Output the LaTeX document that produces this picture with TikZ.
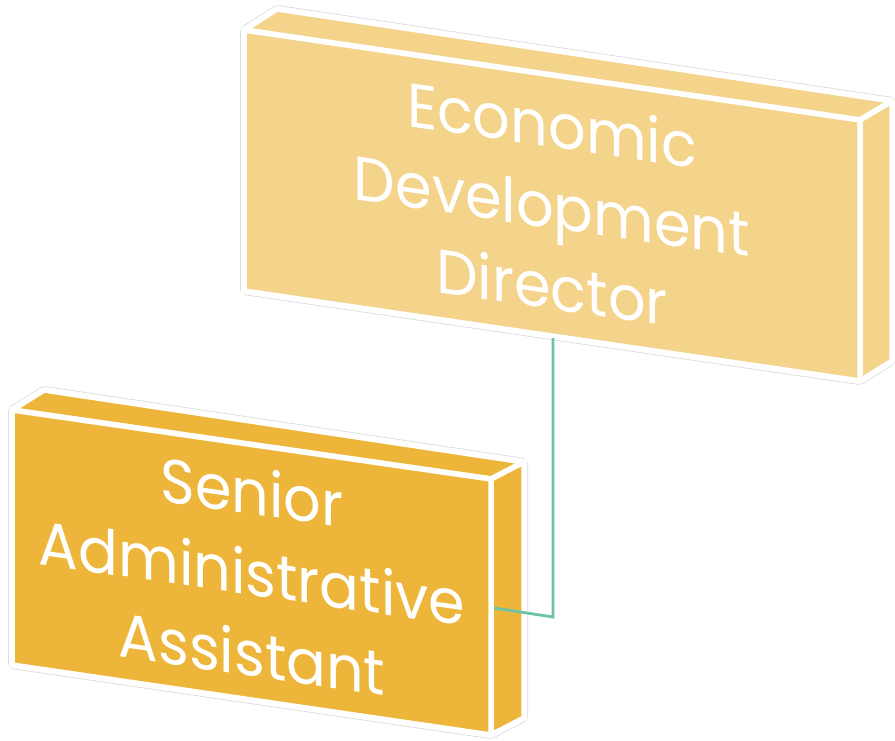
\documentclass[tikz,border=0pt]{standalone}
\usepackage{fontspec}
\setmainfont{Poppins}[FakeStretch=0.95]
\definecolor{sand}{RGB}{244, 211, 139}
\definecolor{mustard}{RGB}{237, 182, 59}
\definecolor{seafoam}{RGB}{108, 195, 165}
\tikzset{
  face/.style={draw=white, line width=5.5pt, line join=round},
  halo/.style={draw=gray!30, line width=8pt, line join=round, rounded corners=2pt},
  rim/.style={draw=white, line width=6.5pt, line join=round, rounded corners=2pt},
  boxtext/.style={text=white, align=center, yslant=-0.145, font=\fontsize{62}{81}\selectfont},
  link/.style={draw=seafoam, line width=2.8pt}
}
\begin{document}
\begin{tikzpicture}[x=1pt, y=-1pt]
  \useasboundingbox (0,0) rectangle (895,740);
  % director box
  \coordinate (dirA) at (244, 30);  \coordinate (dirB) at (860,120);
  \coordinate (dirC) at (860,381);  \coordinate (dirD) at (244,291);
  \coordinate (dirE) at (277,  9);  \coordinate (dirF) at (892,101);
  \coordinate (dirG) at (892,361);
  \path[halo] (dirA) -- (dirE) -- (dirF) -- (dirG) -- (dirC) -- (dirD) -- cycle;
  \path[rim]  (dirA) -- (dirE) -- (dirF) -- (dirG) -- (dirC) -- (dirD) -- cycle;
  \filldraw[face, fill=sand] (dirA) -- (dirE) -- (dirF) -- (dirB) -- cycle;
  \filldraw[face, fill=sand] (dirB) -- (dirF) -- (dirG) -- (dirC) -- cycle;
  \filldraw[face, fill=sand] (dirA) -- (dirB) -- (dirC) -- (dirD) -- cycle;
  \node[boxtext] (director) at (552,205) {Economic\\Development\\Director};
  % assistant box
  \coordinate (asA) at ( 12,410);  \coordinate (asB) at (491,479);
  \coordinate (asC) at (491,735);  \coordinate (asD) at ( 12,665);
  \coordinate (asE) at ( 44,390);  \coordinate (asF) at (524,462);
  \coordinate (asG) at (524,718);
  \path[halo] (asA) -- (asE) -- (asF) -- (asG) -- (asC) -- (asD) -- cycle;
  \path[rim]  (asA) -- (asE) -- (asF) -- (asG) -- (asC) -- (asD) -- cycle;
  \filldraw[face, fill=mustard] (asA) -- (asE) -- (asF) -- (asB) -- cycle;
  \filldraw[face, fill=mustard] (asB) -- (asF) -- (asG) -- (asC) -- cycle;
  \filldraw[face, fill=mustard] (asA) -- (asB) -- (asC) -- (asD) -- cycle;
  \node[boxtext] (assistant) at (252,572) {Senior\\Administrative\\Assistant};
  % reporting line
  \coordinate (dirFoot) at (553,338);
  \coordinate (bend)    at (553,617);
  \coordinate (asSide)  at (494,608);
  \draw[link] (dirFoot) -- (bend) -- (asSide);
\end{tikzpicture}
\end{document}
